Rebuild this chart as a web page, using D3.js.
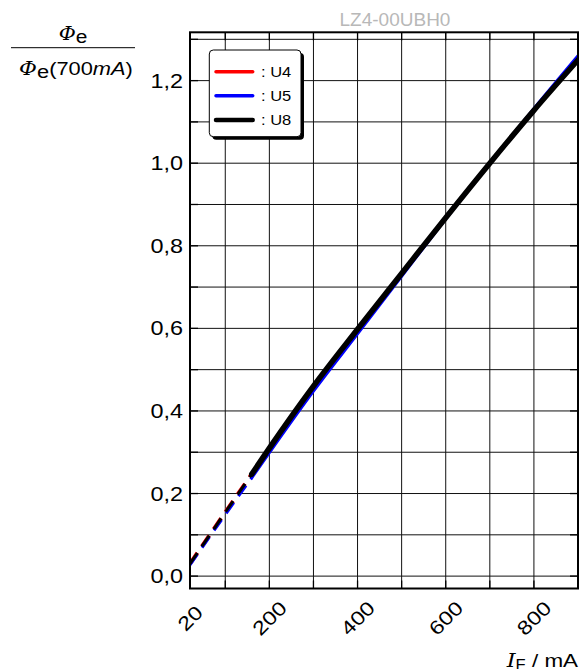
<!DOCTYPE html>
<html>
<head>
<meta charset="utf-8">
<script src="https://cdn.jsdelivr.net/npm/d3@7"></script>
<style>
  html, body { margin: 0; padding: 0; background: #fff; }
  svg { display: block; font-family: "Liberation Sans", Arial, Helvetica, sans-serif; }
</style>
</head>
<body>
<svg id="chart" width="579" height="672"></svg>
<script>
// ---- data ----
const title = "LZ4-00UBH0";
const currents = [20, 90, 160, 200, 300, 400, 500, 600, 700, 800, 900];
const u4 = [0.030, 0.139, 0.247, 0.310, 0.460, 0.597, 0.732, 0.868, 1.000, 1.129, 1.251];
const u5 = [0.027, 0.134, 0.238, 0.299, 0.448, 0.587, 0.726, 0.865, 1.000, 1.132, 1.260];
const u8 = [0.030, 0.139, 0.247, 0.310, 0.460, 0.598, 0.733, 0.868, 1.000, 1.128, 1.250];
const seriesNames = ["U4", "U5", "U8"];
const seriesColors = ["#ff0000", "#0000ff", "#000000"];
const dashedUntil = 160;
const xTicks = [20, 200, 400, 600, 800];
const xGrid = [100, 200, 300, 400, 500, 600, 700, 800];
const yTicks = [0, 0.2, 0.4, 0.6, 0.8, 1.0, 1.2];
const yGrid = [0, 0.1, 0.2, 0.3, 0.4, 0.5, 0.6, 0.7, 0.8, 0.9, 1.0, 1.1, 1.2, 1.3];

// ---- layout ----
const L = 190, R = 578, T = 32.3, B = 588.5;
const x = d3.scaleLinear().domain([20, 900]).range([L, R]);
const y = d3.scaleLinear().domain([-0.03, 1.317]).range([B, T]);

const svg = d3.select("#chart");
const fmt = v => d3.format(".1f")(v).replace(".", ",");

// grid
const g = svg.append("g");
g.selectAll("line.gx").data(xGrid).join("line")
  .attr("x1", d => x(d)).attr("x2", d => x(d)).attr("y1", T).attr("y2", B)
  .attr("stroke", "#111").attr("stroke-width", 1);
g.selectAll("line.gy").data(yGrid).join("line")
  .attr("x1", L).attr("x2", R).attr("y1", d => y(d)).attr("y2", d => y(d))
  .attr("stroke", "#111").attr("stroke-width", 1);

// inward ticks (all sides)
const tl = 8;
g.selectAll("line.tt").data(xGrid).join("line")
  .attr("x1", d => x(d)).attr("x2", d => x(d)).attr("y1", T).attr("y2", T + tl)
  .attr("stroke", "#000").attr("stroke-width", 1.3);
g.selectAll("line.tb").data(xGrid).join("line")
  .attr("x1", d => x(d)).attr("x2", d => x(d)).attr("y1", B).attr("y2", B - tl)
  .attr("stroke", "#000").attr("stroke-width", 1.3);
g.selectAll("line.tlft").data(yGrid).join("line")
  .attr("x1", L).attr("x2", L + tl).attr("y1", d => y(d)).attr("y2", d => y(d))
  .attr("stroke", "#000").attr("stroke-width", 1.3);
g.selectAll("line.trt").data(yGrid).join("line")
  .attr("x1", R).attr("x2", R - tl).attr("y1", d => y(d)).attr("y2", d => y(d))
  .attr("stroke", "#000").attr("stroke-width", 1.3);

// series
const series = [u4, u5, u8];
const widthsSolid = [3, 3, 5.5];
const widthsDash = [4, 3, 3];
svg.append("clipPath").attr("id", "clip").append("rect")
  .attr("x", L).attr("y", T).attr("width", R - L).attr("height", B - T);
const lines = svg.append("g").attr("clip-path", "url(#clip)");
const lineGen = d3.line().x(d => x(d[0])).y(d => y(d[1])).curve(d3.curveMonotoneX);
series.forEach((vals, i) => {
  const pts = currents.map((c, k) => [c, vals[k]]);
  const dashed = pts.filter(p => p[0] <= dashedUntil);
  const solid = pts.filter(p => p[0] >= dashedUntil);
  lines.append("path").datum(dashed).attr("d", lineGen)
    .attr("fill", "none").attr("stroke", seriesColors[i])
    .attr("stroke-width", widthsDash[i]).attr("stroke-dasharray", "13,8");
  lines.append("path").datum(solid).attr("d", lineGen)
    .attr("fill", "none").attr("stroke", seriesColors[i])
    .attr("stroke-width", widthsSolid[i]).attr("stroke-linecap", "round");
});

// frame
svg.append("rect").attr("x", L).attr("y", T).attr("width", R - L).attr("height", B - T)
  .attr("fill", "none").attr("stroke", "#000").attr("stroke-width", 2);

// y tick labels
svg.selectAll("text.yt").data(yTicks).join("text")
  .attr("transform", d => `translate(183,${y(d)}) scale(1.2,1)`)
  .attr("dy", "0.36em")
  .attr("text-anchor", "end").attr("font-size", 19.5).attr("fill", "#000")
  .text(fmt);

// x tick labels
svg.selectAll("text.xt").data(xTicks).join("text")
  .attr("transform", d => `translate(${x(d)},618) rotate(-45) scale(1.2,1)`)
  .attr("dy", "0.36em").attr("text-anchor", "middle")
  .attr("font-size", 19.5).attr("fill", "#000")
  .text(d => d);

// title
svg.append("text").attr("x", 395).attr("y", 26).attr("text-anchor", "middle")
  .attr("font-size", 19).attr("fill", "#b8b8b8").text(title);

// y axis label (fraction)
const yl1 = svg.append("text").attr("transform", "translate(73,40) scale(1.1,1)")
  .attr("text-anchor", "middle").attr("font-size", 19);
yl1.append("tspan").attr("font-style", "italic").attr("font-family", "DejaVu Serif, serif").text("Φ");
yl1.append("tspan").attr("dy", 3).text("e");
svg.append("line").attr("x1", 11).attr("x2", 135).attr("y1", 47.7).attr("y2", 47.7)
  .attr("stroke", "#000").attr("stroke-width", 1);
const yl2 = svg.append("text").attr("transform", "translate(76,75) scale(1.15,1)")
  .attr("text-anchor", "middle").attr("font-size", 19);
yl2.append("tspan").attr("font-style", "italic").attr("font-family", "DejaVu Serif, serif").text("Φ");
yl2.append("tspan").attr("dy", 3).text("e");
yl2.append("tspan").attr("dy", -3).text("(700");
yl2.append("tspan").attr("font-style", "italic").text("mA");
yl2.append("tspan").text(")");

// x axis label
const xl = svg.append("text").attr("transform", "translate(578,667) scale(1.18,1)")
  .attr("text-anchor", "end").attr("font-size", 19);
xl.append("tspan").attr("font-style", "italic").attr("font-family", "DejaVu Serif, serif").text("I");
xl.append("tspan").attr("dy", 2).attr("font-size", 14).text("F");
xl.append("tspan").attr("dy", -2).text(" / mA");

// legend
const lg = svg.append("g");
const lx = 209.3, ly = 50, lw = 91.7, lh = 86.7;
lg.append("rect").attr("x", lx + 3).attr("y", ly + 3).attr("width", lw).attr("height", lh)
  .attr("rx", 4).attr("fill", "#000");
lg.append("rect").attr("x", lx).attr("y", ly).attr("width", lw).attr("height", lh)
  .attr("rx", 4).attr("fill", "#fff").attr("stroke", "#000").attr("stroke-width", 1);
const legY = [71.7, 95.7, 120];
const legW = [3.5, 3.5, 4.5];
seriesNames.forEach((n, i) => {
  lg.append("line").attr("x1", 216).attr("x2", 252.7).attr("y1", legY[i]).attr("y2", legY[i])
    .attr("stroke", seriesColors[i]).attr("stroke-width", legW[i]).attr("stroke-linecap", "round");
  lg.append("text").attr("transform", `translate(261,${legY[i]}) scale(1.1,1)`).attr("dy", "0.36em")
    .attr("font-size", 15).attr("fill", "#000").text(": " + n);
});
</script>
</body>
</html>
